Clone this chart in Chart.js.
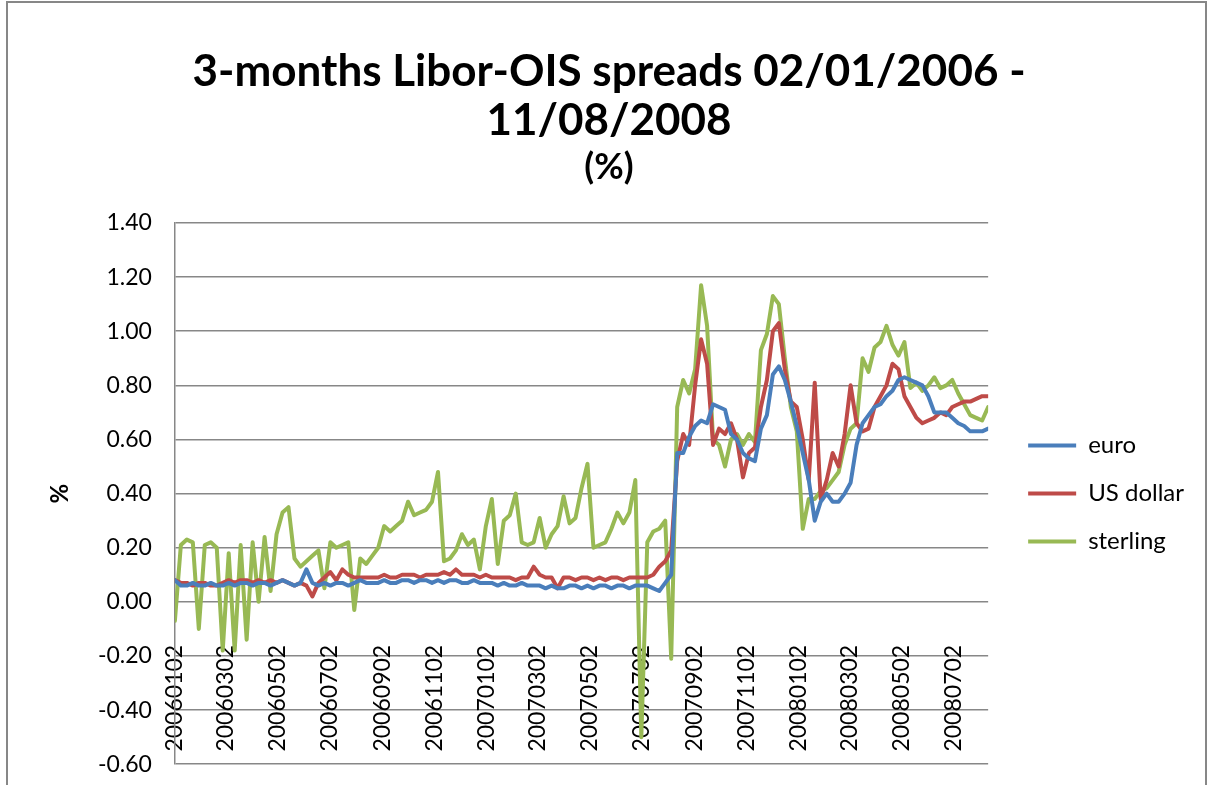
<!DOCTYPE html>
<html>
<head>
<meta charset="utf-8">
<script src="https://cdn.jsdelivr.net/npm/chart.js@4.4.1/dist/chart.umd.min.js"></script>
<style>
  html, body { margin: 0; padding: 0; background: #fff; overflow: hidden; }
  #wrap { position: relative; width: 1210px; height: 785px; overflow: hidden; }
  #frame { position: absolute; left: 6px; top: 1px; width: 1197px; height: 900px; border: 2px solid #878787; pointer-events: none; }
  canvas { position: absolute; left: 0; top: 0; }
</style>
</head>
<body>
<div id="wrap">
  <canvas id="chart" width="1210" height="801"></canvas>
  <div id="frame"></div>
</div>
<script>
// weekly readings, first week 2006-01-02, last week 2008-08-11
const startDate = '20060102';

const euro = [
    0.08, 0.06, 0.06, 0.07, 0.06, 0.06, 0.07, 0.06, 0.06, 0.07,
    0.06, 0.07, 0.07, 0.06, 0.07, 0.07, 0.06, 0.07, 0.08, 0.07,
    0.06, 0.07, 0.12, 0.07, 0.06, 0.07, 0.06, 0.07, 0.07, 0.06,
    0.07, 0.08, 0.07, 0.07, 0.07, 0.08, 0.07, 0.07, 0.08, 0.08,
    0.07, 0.08, 0.08, 0.07, 0.08, 0.07, 0.08, 0.08, 0.07, 0.07,
    0.08, 0.07, 0.07, 0.07, 0.06, 0.07, 0.06, 0.06, 0.07, 0.06,
    0.06, 0.06, 0.05, 0.06, 0.05, 0.05, 0.06, 0.06, 0.05, 0.06,
    0.05, 0.06, 0.06, 0.05, 0.06, 0.06, 0.05, 0.06, 0.06, 0.06,
    0.05, 0.04, 0.07, 0.10, 0.55, 0.55, 0.61, 0.65, 0.67, 0.66,
    0.73, 0.72, 0.71, 0.62, 0.60, 0.55, 0.53, 0.52, 0.64, 0.69,
    0.84, 0.87, 0.82, 0.74, 0.65, 0.55, 0.45, 0.30, 0.37, 0.40,
    0.37, 0.37, 0.40, 0.44, 0.58, 0.66, 0.69, 0.72, 0.73, 0.76,
    0.78, 0.82, 0.83, 0.82, 0.81, 0.80, 0.76, 0.70, 0.70, 0.70,
    0.68, 0.66, 0.65, 0.63, 0.63, 0.63, 0.64
];

const usDollar = [
    0.08, 0.07, 0.07, 0.06, 0.07, 0.07, 0.06, 0.06, 0.07, 0.08,
    0.07, 0.08, 0.08, 0.07, 0.08, 0.07, 0.08, 0.07, 0.08, 0.07,
    0.06, 0.07, 0.06, 0.02, 0.07, 0.09, 0.11, 0.08, 0.12, 0.10,
    0.09, 0.09, 0.09, 0.09, 0.09, 0.10, 0.09, 0.09, 0.10, 0.10,
    0.10, 0.09, 0.10, 0.10, 0.10, 0.11, 0.10, 0.12, 0.10, 0.10,
    0.10, 0.09, 0.10, 0.09, 0.09, 0.09, 0.09, 0.08, 0.09, 0.09,
    0.13, 0.10, 0.09, 0.09, 0.05, 0.09, 0.09, 0.08, 0.09, 0.09,
    0.08, 0.09, 0.08, 0.09, 0.09, 0.08, 0.09, 0.09, 0.09, 0.09,
    0.10, 0.13, 0.15, 0.19, 0.52, 0.62, 0.58, 0.80, 0.97, 0.88,
    0.58, 0.64, 0.62, 0.66, 0.60, 0.46, 0.55, 0.57, 0.72, 0.82,
    1.00, 1.03, 0.86, 0.74, 0.72, 0.60, 0.45, 0.81, 0.38, 0.45,
    0.55, 0.50, 0.62, 0.80, 0.66, 0.63, 0.64, 0.72, 0.76, 0.80,
    0.88, 0.86, 0.76, 0.72, 0.68, 0.66, 0.67, 0.68, 0.70, 0.69,
    0.72, 0.73, 0.74, 0.74, 0.75, 0.76, 0.76
];

const sterling = [
    -0.07, 0.21, 0.23, 0.22, -0.10, 0.21, 0.22, 0.20, -0.18, 0.18,
    -0.18, 0.21, -0.14, 0.22, 0.00, 0.24, 0.04, 0.25, 0.33, 0.35,
    0.16, 0.13, 0.15, 0.17, 0.19, 0.05, 0.22, 0.20, 0.21, 0.22,
    -0.03, 0.16, 0.14, 0.17, 0.20, 0.28, 0.26, 0.28, 0.30, 0.37,
    0.32, 0.33, 0.34, 0.37, 0.48, 0.15, 0.16, 0.19, 0.25, 0.21,
    0.23, 0.12, 0.28, 0.38, 0.14, 0.30, 0.32, 0.40, 0.22, 0.21,
    0.22, 0.31, 0.20, 0.25, 0.28, 0.39, 0.29, 0.31, 0.42, 0.51,
    0.20, 0.21, 0.22, 0.27, 0.33, 0.29, 0.33, 0.45, -0.50, 0.22,
    0.26, 0.27, 0.30, -0.21, 0.72, 0.82, 0.77, 0.86, 1.17, 1.02,
    0.60, 0.58, 0.50, 0.60, 0.62, 0.58, 0.62, 0.59, 0.93, 0.99,
    1.13, 1.10, 0.90, 0.72, 0.63, 0.27, 0.38, 0.38, 0.41, 0.42,
    0.45, 0.48, 0.58, 0.64, 0.66, 0.90, 0.85, 0.94, 0.96, 1.02,
    0.95, 0.91, 0.96, 0.79, 0.81, 0.78, 0.80, 0.83, 0.79, 0.80,
    0.82, 0.77, 0.73, 0.69, 0.68, 0.67, 0.72
];

const tickLabels = [
    '20060102', '20060302', '20060502', '20060702', '20060902', '20061102',
    '20070102', '20070302', '20070502', '20070702', '20070902', '20071102',
    '20080102', '20080302', '20080502', '20080702'
];

const seriesNames = ['euro', 'US dollar', 'sterling'];
const seriesColors = ['#4A7EBB', '#BE4B48', '#98B954'];
const yMin = -0.6, yMax = 1.4, yStep = 0.2;

function toUTC(s) {
    return Date.UTC(+s.slice(0, 4), +s.slice(4, 6) - 1, +s.slice(6, 8));
}
function dayOf(s) {
    return Math.round((toUTC(s) - toUTC(startDate)) / 86400000);
}
function fmt(ms) {
    const d = new Date(ms);
    const p = n => String(n).padStart(2, '0');
    return d.getUTCFullYear() + p(d.getUTCMonth() + 1) + p(d.getUTCDate());
}

const weeks = [];
for (let i = 0; i < euro.length; i++) {
    weeks.push(fmt(toUTC(startDate) + i * 7 * 86400000));
}
const weekDays = weeks.map(dayOf);
const tickDays = tickLabels.map(dayOf);

function toPoints(values) {
    return values.map((v, i) => ({ x: weekDays[i], y: v }));
}

const gridColor = '#878787';

function drawChart() {
    const ctx = document.getElementById('chart').getContext('2d');
    Chart.defaults.font.family = 'Lato';
    Chart.defaults.color = '#000';

    new Chart(ctx, {
        type: 'line',
        data: {
            datasets: [euro, usDollar, sterling].map((vals, k) => ({
                label: seriesNames[k],
                data: toPoints(vals),
                borderColor: seriesColors[k],
                backgroundColor: seriesColors[k],
                borderWidth: 4,
                borderJoinStyle: 'round',
                borderCapStyle: 'round',
                pointRadius: 0,
                tension: 0,
                fill: false
            }))
        },
        options: {
            responsive: false,
            animation: false,
            layout: { padding: { left: 24, right: 16, top: 0, bottom: 0 } },
            plugins: {
                title: {
                    display: true,
                    text: ['3-months Libor-OIS spreads 02/01/2006 -', '11/08/2008'],
                    font: { size: 44, weight: 'bold', lineHeight: 1.1 },
                    padding: { top: 48, bottom: 0 }
                },
                subtitle: {
                    display: true,
                    text: '(%)',
                    font: { size: 36, weight: 'bold', lineHeight: 1.2 },
                    padding: { top: 1, bottom: 34 }
                },
                legend: {
                    position: 'right',
                    fullSize: false,
                    labels: {
                        font: { size: 24 },
                        boxWidth: 48,
                        boxHeight: 4,
                        padding: 24,
                        generateLabels: chart => chart.data.datasets.map((ds, i) => ({
                            text: ds.label,
                            fillStyle: ds.borderColor,
                            strokeStyle: ds.borderColor,
                            lineWidth: 0,
                            datasetIndex: i
                        }))
                    }
                },
                tooltip: { enabled: false }
            },
            scales: {
                x: {
                    type: 'linear',
                    position: { y: 0 },
                    min: 0,
                    max: weekDays[weekDays.length - 1],
                    grid: { display: false },
                    border: { display: false },
                    afterBuildTicks: scale => {
                        scale.ticks = tickDays.map(v => ({ value: v }));
                    },
                    ticks: {
                        autoSkip: false,
                        minRotation: 90,
                        maxRotation: 90,
                        padding: 35,
                        font: { size: 23 },
                        callback: value => tickLabels[tickDays.indexOf(value)]
                    }
                },
                y: {
                    min: yMin,
                    max: yMax,
                    title: {
                        display: true,
                        text: '%',
                        font: { size: 24, weight: 'bold', lineHeight: 1.2 },
                        padding: { top: 21.6, bottom: 0.5 }
                    },
                    grid: { color: gridColor, lineWidth: 1.5, drawTicks: false },
                    border: { display: true, color: gridColor, width: 1.5 },
                    ticks: {
                        stepSize: yStep,
                        padding: 23,
                        font: { size: 23 },
                        callback: v => (Math.abs(v) < 1e-9 ? 0 : v).toFixed(2)
                    }
                },
                yGap: {
                    position: 'right',
                    display: true,
                    grid: { display: false },
                    border: { display: false },
                    ticks: { display: false },
                    afterFit: scale => { scale.width = 16; }
                }
            }
        }
    });
}

Promise.all([
    document.fonts.load('bold 44px Lato'),
    document.fonts.load('23px Lato')
]).then(drawChart, drawChart);
</script>
</body>
</html>
